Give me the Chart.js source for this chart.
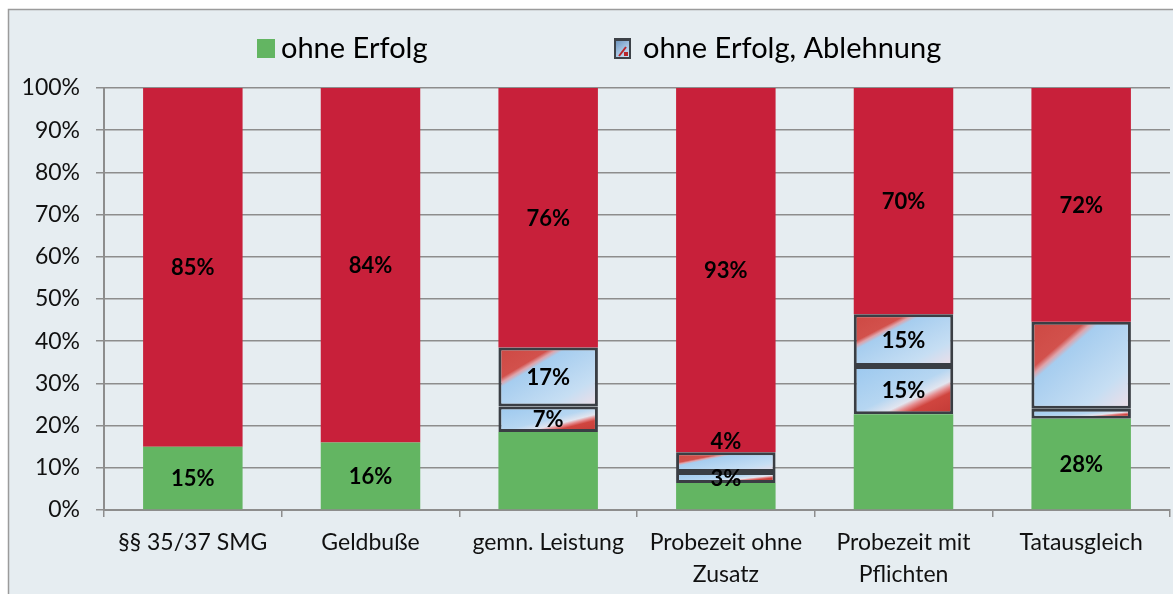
<!DOCTYPE html>
<html>
<head>
<meta charset="utf-8">
<script src="https://cdn.jsdelivr.net/npm/chart.js@4.4.1/dist/chart.umd.min.js"></script>
<style>
  html, body { margin: 0; padding: 0; background: #fff; }
  #wrap { width: 1173px; height: 594px; }
</style>
</head>
<body>
<div id="wrap"><canvas id="chart"></canvas></div>
<script>
// Kategorien (x-Achse)
const categories = [['§§ 35/37 SMG'], ['Geldbuße'], ['gemn. Leistung'], ['Probezeit ohne', 'Zusatz'], ['Probezeit mit', 'Pflichten'], ['Tatausgleich']];

// Segmenthöhen in %
const ohneErfolg = [15, 16, 18.5, 6.4, 22.7, 21.6];
const ablehnungUnten = [null, null, 6, 2.6, 11.4, 2.4];
const ablehnungOben = [null, null, 14, 4.7, 12.3, 20.6];
const rest = [85, 84, 61.5, 86.3, 53.6, 55.4];

// Beschriftungen der Segmente
const labelsOhneErfolg = ['15%', '16%', '', '', '', '28%'];
const labelsUnten = ['', '', '7%', '3%', '15%', ''];
const labelsOben = ['', '', '17%', '4%', '15%', ''];
const labelsRest = ['85%', '84%', '76%', '93%', '70%', '72%'];

// y-Achse
const yTicks = [0, 10, 20, 30, 40, 50, 60, 70, 80, 90, 100];

const FONT = 'Lato, "Open Sans", sans-serif';
const BAR_PCT = 0.56;

// Farbverlauf je Segment (wie das gestreckte Bildmuster in Excel)
function segFill(ctx, stops) {
  const chart = ctx.chart;
  const { scales, chartArea } = chart;
  if (!chartArea || ctx.type !== 'data' || ctx.raw == null) return stops[0][1];
  const i = ctx.dataIndex;
  let base = 0;
  for (let d = 0; d < ctx.datasetIndex; d++) base += chart.data.datasets[d].data[i] || 0;
  const top = base + ctx.raw;
  const half = scales.x.width / categories.length * BAR_PCT / 2;
  const x0 = scales.x.getPixelForValue(i) - half;
  const y0 = scales.y.getPixelForValue(top);
  const w = half * 2;
  const h = scales.y.getPixelForValue(base) - y0;
  if (h <= 0) return stops[0][1];
  const s = 2 * w * h / (w * w + h * h);
  const g = chart.ctx.createLinearGradient(x0, y0, x0 + s * h, y0 + s * w);
  stops.forEach(st => g.addColorStop(st[0], st[1]));
  return g;
}

const stopsOben = [[0, '#cd4843'], [0.27, '#d2514c'], [0.31, '#dfa3aa'], [0.35, '#a6cdef'], [0.75, '#c6def3'], [1, '#f1dee6']];
const stopsUnten = [[0, '#9bc8ef'], [0.5, '#b6d6f1'], [0.64, '#e2e5ef'], [0.7, '#e58a8c'], [0.76, '#d0453f'], [1, '#c23a36']];

const bgPlugin = {
  id: 'bg',
  beforeDraw(chart) {
    const c = chart.ctx;
    c.save();
    c.fillStyle = '#fff';
    c.fillRect(0, 0, chart.width, chart.height);
    c.fillStyle = '#e6edf1';
    c.fillRect(8, 9, chart.width - 8, chart.height - 9);
    c.strokeStyle = '#9b9b9b';
    c.lineWidth = 1.5;
    c.beginPath();
    c.moveTo(8.5, chart.height);
    c.lineTo(8.5, 9.5);
    c.lineTo(chart.width, 9.5);
    c.stroke();
    c.restore();
  }
};

const labelPlugin = {
  id: 'segLabels',
  afterDatasetsDraw(chart) {
    const c = chart.ctx;
    c.save();
    c.font = 'bold 22px ' + FONT;
    c.fillStyle = '#000';
    c.textAlign = 'center';
    c.textBaseline = 'middle';
    chart.data.datasets.forEach((ds, di) => {
      const meta = chart.getDatasetMeta(di);
      meta.data.forEach((bar, i) => {
        const txt = ds.segLabels[i];
        if (!txt) return;
        const p = bar.getProps(['x', 'y', 'base'], true);
        let y = (p.y + p.base) / 2;
        // zu flaches oberes Segment: Beschriftung darüber
        if (di === 2 && Math.abs(p.base - p.y) < 24) y = p.y - 11;
        c.fillText(txt, p.x, y + 1);
      });
    });
    c.restore();
  }
};

const legendPlugin = {
  id: 'topLegend',
  afterDraw(chart) {
    const c = chart.ctx;
    const ds = chart.data.datasets;
    const cy = 48;
    c.save();
    c.font = '29px ' + FONT;
    c.textBaseline = 'middle';
    // ohne Erfolg
    c.fillStyle = ds[0].backgroundColor;
    c.fillRect(257, cy - 9, 18, 19);
    c.fillStyle = '#000';
    c.fillText(ds[0].label, 281, cy + 1);
    // ohne Erfolg, Ablehnung (Bildsymbol)
    const ix = 614, iy = cy - 10;
    const g = c.createLinearGradient(ix, iy, ix + 16, iy + 20);
    g.addColorStop(0, '#5d86b3');
    g.addColorStop(0.6, '#a9c8e6');
    g.addColorStop(1, '#d9e6f2');
    c.fillStyle = '#3d4248';
    c.fillRect(ix, iy, 17, 21);
    c.fillStyle = g;
    c.fillRect(ix + 2, iy + 3, 13, 16);
    c.strokeStyle = '#b9272c';
    c.lineWidth = 2;
    c.beginPath();
    c.moveTo(ix + 5, iy + 18);
    c.lineTo(ix + 12, iy + 9);
    c.stroke();
    c.fillStyle = '#b9272c';
    c.fillRect(ix + 10, iy + 14, 4, 4);
    c.fillStyle = '#000';
    c.fillText(ds[2].label, 643, cy + 1);
    c.restore();
  }
};

new Chart(document.getElementById('chart'), {
  type: 'bar',
  data: {
    labels: categories,
    datasets: [
      {
        label: 'ohne Erfolg',
        data: ohneErfolg,
        segLabels: labelsOhneErfolg,
        backgroundColor: '#63b562'
      },
      {
        label: 'ohne Erfolg, Ablehnung (unten)',
        data: ablehnungUnten,
        segLabels: labelsUnten,
        backgroundColor: ctx => segFill(ctx, stopsUnten),
        borderColor: '#3a3e44',
        borderWidth: 3,
        borderSkipped: false
      },
      {
        label: 'ohne Erfolg, Ablehnung',
        data: ablehnungOben,
        segLabels: labelsOben,
        backgroundColor: ctx => segFill(ctx, stopsOben),
        borderColor: '#3a3e44',
        borderWidth: 3,
        borderSkipped: false
      },
      {
        label: 'mit Erfolg',
        data: rest,
        segLabels: labelsRest,
        backgroundColor: '#c8203a'
      }
    ]
  },
  options: {
    responsive: true,
    maintainAspectRatio: false,
    animation: false,
    datasets: {
      bar: { barPercentage: BAR_PCT, categoryPercentage: 1 }
    },
    layout: { padding: { top: 88, left: 8, right: 3, bottom: 0 } },
    plugins: {
      legend: { display: false },
      tooltip: { enabled: false }
    },
    scales: {
      x: {
        stacked: true,
        grid: { drawOnChartArea: false, offset: true, tickLength: 7, color: '#8d8d8d', lineWidth: 1.5 },
        border: { color: '#8d8d8d', width: 2 },
        ticks: {
          font: { family: FONT, size: 23, lineHeight: 1.4 },
          color: '#111',
          padding: 9,
          maxRotation: 0,
          autoSkip: false
        },
        afterFit: s => { s.height = 84; }
      },
      y: {
        stacked: true,
        min: 0,
        max: 100,
        afterBuildTicks: s => { s.ticks = yTicks.map(v => ({ value: v })); },
        ticks: {
          callback: v => v + '%',
          font: { family: FONT, size: 23 },
          color: '#111',
          padding: 16
        },
        grid: { color: '#8d8d8d', lineWidth: 1.5, tickLength: 8 },
        border: { color: '#8d8d8d', width: 2 },
        afterFit: s => { s.width = 96; }
      }
    }
  },
  plugins: [bgPlugin, labelPlugin, legendPlugin]
});
</script>
</body>
</html>
